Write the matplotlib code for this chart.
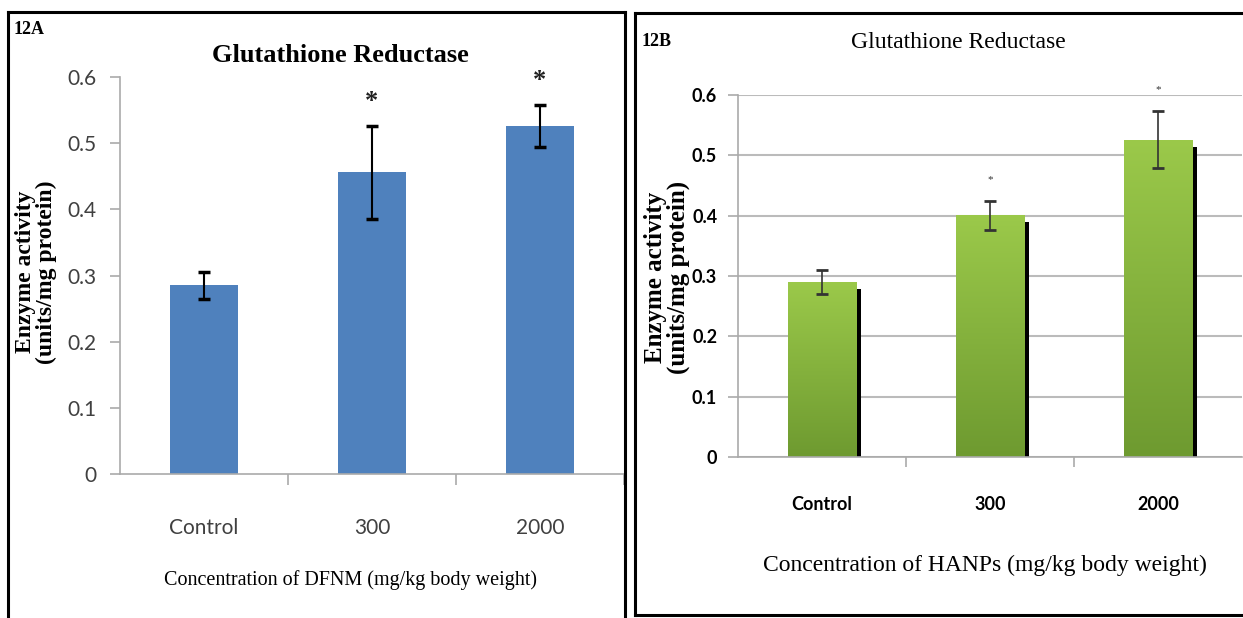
import matplotlib
matplotlib.use("Agg")
import matplotlib.pyplot as plt
import numpy as np
from matplotlib.lines import Line2D
from matplotlib.colors import LinearSegmentedColormap

categories = ["Control", "300", "2000"]
values_a = [0.285, 0.456, 0.526]
errors_a = [0.021, 0.070, 0.032]
values_b = [0.290, 0.401, 0.526]
errors_b = [0.020, 0.024, 0.047]
sig_a = ["", "*", "*"]
sig_b = ["", "*", "*"]
yticks = [0, 0.1, 0.2, 0.3, 0.4, 0.5, 0.6]
ytick_labels = ["0", "0.1", "0.2", "0.3", "0.4", "0.5", "0.6"]

W, H = 1243, 618
fig = plt.figure(figsize=(W / 100, H / 100), dpi=100)

def fx(px):
    return px / W

def fy(py):
    return 1 - py / H

serif = "Liberation Serif"
sans = "Lato"

# ---- Panel frames ----
frame_lines = [
    ((8, 8), (12, 618)),
    ((8, 625), (12, 12)),
    ((625, 625), (12, 618)),
    ((635, 1243), (13, 13)),
    ((635, 635), (13, 615)),
    ((635, 1243), (615, 615)),
]
for xs, ys in frame_lines:
    fig.add_artist(Line2D([fx(xs[0]), fx(xs[1])], [fy(ys[0]), fy(ys[1])],
                          color="black", lw=2.2, transform=fig.transFigure))

x = np.arange(len(categories))

# ---- Panel A ----
axA = fig.add_axes([fx(120), fy(474), fx(624) - fx(120), fy(77) - fy(474)])
axA.bar(x, values_a, width=0.405, color="#4f81bd", zorder=2)
axA.errorbar(x, values_a, yerr=errors_a, fmt="none", ecolor="black",
             elinewidth=1.5, capsize=4, capthick=2.5, zorder=3)
for xi, v, e, s in zip(x, values_a, errors_a, sig_a):
    if s:
        axA.text(xi, v + e + 0.02, s, ha="center", va="bottom",
                 fontsize=19, fontweight="bold", family=serif, color="#222222")
axA.set_xlim(-0.5, 2.5)
axA.set_ylim(0, 0.6)
axA.set_yticks(yticks)
axA.set_yticklabels(ytick_labels)
axA.set_xticks([0.5, 1.5, 2.5], minor=False)
axA.set_xticklabels([])
axA.set_xticks(x, minor=True)
axA.set_xticklabels(categories, minor=True)
axA.tick_params(axis="x", which="minor", length=0, pad=32, labelsize=15,
                labelcolor="#404040")
axA.tick_params(axis="x", which="major", length=8, color="#aaaaaa", width=1.2)
axA.tick_params(axis="y", length=7, color="#aaaaaa", width=1.2, pad=10,
                labelsize=15, labelcolor="#404040")
for lab in axA.get_xticklabels(minor=True) + axA.get_yticklabels():
    lab.set_family(sans)
for sp in ["top", "right"]:
    axA.spines[sp].set_visible(False)
for sp in ["left", "bottom"]:
    axA.spines[sp].set_color("#aaaaaa")
    axA.spines[sp].set_linewidth(1.2)
axA.set_facecolor("none")

fig.text(fx(340), fy(55), "Glutathione Reductase", ha="center", va="center",
         fontsize=19, fontweight="bold", family=serif)
fig.text(fx(14), fy(30), "12A", ha="left", va="center", fontsize=13,
         fontweight="bold", family=serif)
fig.text(fx(36), fy(272), "Enzyme activity\n(units/mg protein)", ha="center",
         va="center", rotation=90, fontsize=17, fontweight="bold", family=serif,
         linespacing=0.95)
fig.text(fx(351), fy(580), "Concentration of DFNM (mg/kg body weight)",
         ha="center", va="center", fontsize=14.5, family=serif)

# ---- Panel B ----
axB = fig.add_axes([fx(738), fy(457), fx(1242) - fx(738), fy(95) - fy(457)])
bw = 0.41
bars = axB.bar(x, values_b, width=bw, color="#8bb83e", zorder=2)
axB.bar(x + bw / 2 + 0.013, [v - 0.012 for v in values_b], width=0.026,
        color="black", zorder=1.9)
grad = np.linspace(0, 1, 256).reshape(-1, 1)
cmap = LinearSegmentedColormap.from_list("g", ["#6e9a30", "#9bc94a"])
for b in bars:
    x0, y0 = b.get_x(), b.get_y()
    im = axB.imshow(grad, extent=[x0, x0 + b.get_width(), y0, y0 + b.get_height()],
                    origin="lower", cmap=cmap, aspect="auto", zorder=2.1)
    im.set_clip_path(b)
axB.errorbar(x, values_b, yerr=errors_b, fmt="none", ecolor="#333333",
             elinewidth=1.2, capsize=4, capthick=2, zorder=3)
for xi, v, e, s in zip(x, values_b, errors_b, sig_b):
    if s:
        axB.text(xi, v + e + 0.028, s, ha="center", va="bottom",
                 fontsize=8, family=serif, color="#333333")
axB.set_xlim(-0.5, 2.5)
axB.set_ylim(0, 0.6)
axB.set_yticks(yticks)
axB.set_yticklabels(ytick_labels)
axB.yaxis.grid(True, color="#bbbbbb", lw=1.5, zorder=0)
axB.set_axisbelow(True)
axB.set_xticks([0.5, 1.5], minor=False)
axB.set_xticklabels([])
axB.set_xticks(x, minor=True)
axB.set_xticklabels(categories, minor=True)
axB.tick_params(axis="x", which="minor", length=0, pad=28, labelsize=13)
axB.tick_params(axis="x", which="major", length=7, color="#aaaaaa", width=1.2)
axB.tick_params(axis="y", length=7, color="#aaaaaa", width=1.2, pad=8,
                labelsize=13)
for lab in axB.get_xticklabels(minor=True) + axB.get_yticklabels():
    lab.set_family(sans)
    lab.set_fontweight("bold")
for sp in ["top", "right"]:
    axB.spines[sp].set_visible(False)
for sp in ["left", "bottom"]:
    axB.spines[sp].set_color("#aaaaaa")
    axB.spines[sp].set_linewidth(1.2)
axB.set_facecolor("none")

fig.text(fx(958), fy(43), "Glutathione Reductase", ha="center", va="center",
         fontsize=17, family=serif)
fig.text(fx(642), fy(42), "12B", ha="left", va="center", fontsize=13,
         fontweight="bold", family=serif)
fig.text(fx(667), fy(277), "Enzyme activity\n(units/mg protein)", ha="center",
         va="center", rotation=90, fontsize=18, fontweight="bold", family=serif,
         linespacing=0.95)
fig.text(fx(985), fy(565), "Concentration of HANPs (mg/kg body weight)",
         ha="center", va="center", fontsize=17, family=serif)

fig.savefig("out.png", dpi=100)
